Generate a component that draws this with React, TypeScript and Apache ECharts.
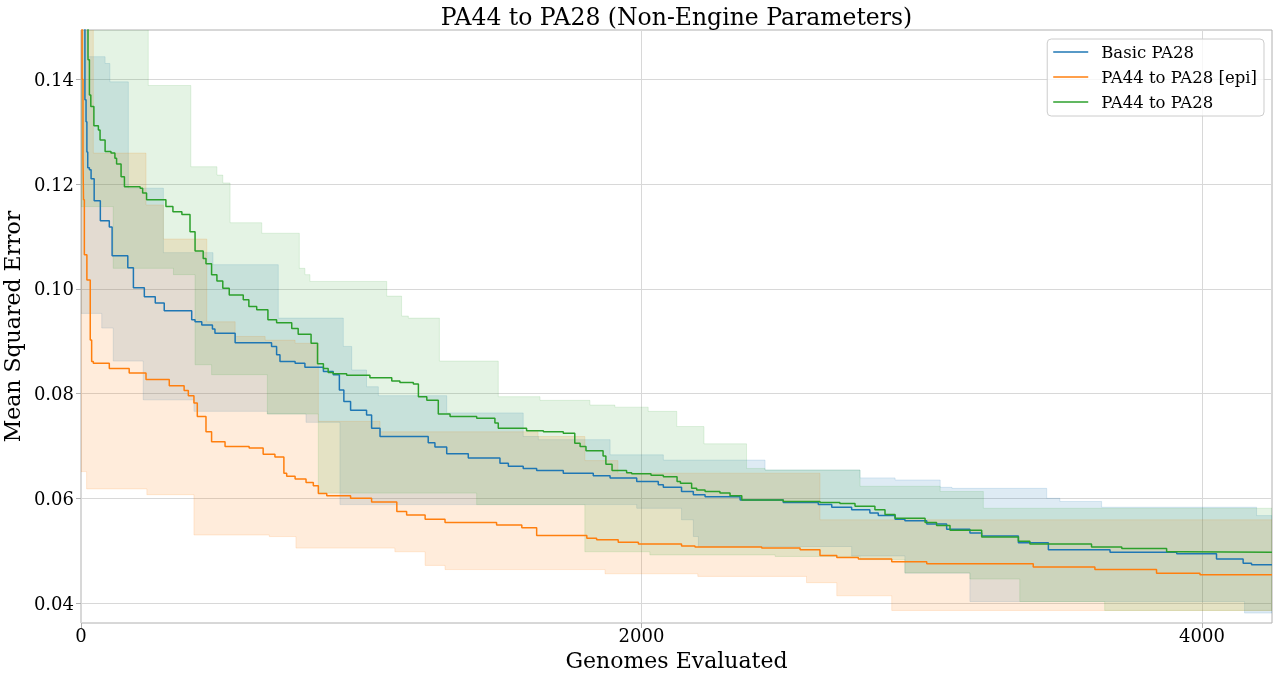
import React, { useEffect, useRef } from 'react';
import * as echarts from 'echarts';

const FONT = '"DejaVu Serif", serif';
const TITLE = 'PA44 to PA28 (Non-Engine Parameters)';
const X_NAME = 'Genomes Evaluated';
const Y_NAME = 'Mean Squared Error';
const X_MAX = 4250;
const Y_MIN = 0.0362;
const Y_MAX = 0.1494;
const X_TICKS = [0, 2000, 4000];
const Y_TICKS = [0.04, 0.06, 0.08, 0.1, 0.12, 0.14];

const SERIES_NAMES = ['Basic PA28', 'PA44 to PA28 [epi]', 'PA44 to PA28'];
const LINE_COLORS = ['#1f77b4', '#ff7f0e', '#2ca02c'];
const BAND_COLORS = ['rgba(31,119,180,0.15)', 'rgba(255,127,14,0.15)', 'rgba(44,160,44,0.13)'];

// mean curves: [genomes evaluated, MSE] (value holds until next point)
const basicMean = [[0,0.18],[7,0.150],[14,0.1361],[18,0.1319],[21,0.1261],[24,0.1231],[30,0.1227],[36,0.1210],[47,0.1168],[69,0.1130],[101,0.1118],[111,0.1063],[167,0.1040],[187,0.1002],[226,0.0985],[265,0.0973],[297,0.0958],[395,0.0941],[407,0.0937],[431,0.0931],[469,0.0923],[478,0.0915],[550,0.0897],[680,0.0890],[698,0.0874],[710,0.0861],[764,0.0858],[799,0.0850],[865,0.0842],[900,0.0836],[922,0.0807],[938,0.0785],[962,0.0768],[1019,0.0759],[1037,0.0734],[1067,0.0718],[1239,0.0706],[1263,0.0698],[1305,0.0685],[1382,0.0677],[1495,0.0667],[1525,0.0661],[1578,0.0657],[1626,0.0653],[1721,0.0648],[1828,0.0643],[1888,0.0639],[1983,0.0632],[2060,0.0626],[2078,0.0621],[2143,0.0613],[2185,0.0607],[2227,0.0603],[2352,0.0597],[2506,0.0592],[2631,0.0588],[2679,0.0583],[2750,0.0578],[2815,0.0572],[2845,0.0567],[2905,0.0560],[2940,0.0557],[3018,0.0551],[3089,0.0541],[3172,0.0534],[3214,0.0528],[3345,0.0515],[3452,0.0502],[3672,0.0497],[3910,0.0494],[4052,0.0484],[4147,0.0476],[4177,0.0473],[4250,0.0473]];

const epiMean = [[0,0.18],[4,0.140],[7,0.125],[9,0.117],[12,0.1065],[21,0.1017],[33,0.0902],[38,0.0861],[44,0.0858],[101,0.0848],[172,0.0839],[232,0.0827],[315,0.0815],[368,0.0806],[383,0.0796],[403,0.0782],[415,0.0756],[446,0.0727],[466,0.0708],[514,0.0699],[600,0.0696],[650,0.0684],[692,0.0679],[724,0.0648],[734,0.0642],[764,0.0637],[803,0.0630],[829,0.0624],[847,0.0609],[877,0.0605],[962,0.0600],[1037,0.0593],[1127,0.0575],[1162,0.0568],[1228,0.0560],[1299,0.0554],[1483,0.0549],[1573,0.0544],[1626,0.0529],[1805,0.0524],[1840,0.0521],[1917,0.0516],[1989,0.0513],[2143,0.0509],[2191,0.0507],[2429,0.0505],[2566,0.0502],[2637,0.0491],[2697,0.0487],[2774,0.0484],[2893,0.0479],[3018,0.0475],[3398,0.0469],[3618,0.0464],[3838,0.0457],[3993,0.0454],[4250,0.0454]];

const pa44Mean = [[0,0.18],[18,0.16],[25,0.1437],[30,0.1370],[35,0.1348],[46,0.1311],[62,0.1303],[68,0.1284],[86,0.1262],[107,0.1259],[121,0.1249],[127,0.1238],[143,0.1214],[155,0.1195],[211,0.1192],[220,0.1183],[234,0.1170],[303,0.1157],[328,0.1147],[360,0.1142],[389,0.1109],[407,0.1072],[436,0.1058],[446,0.1048],[466,0.1027],[485,0.1015],[506,0.1001],[529,0.0988],[579,0.0979],[599,0.0966],[627,0.0960],[667,0.0941],[698,0.0935],[752,0.0924],[775,0.0913],[821,0.0896],[844,0.0857],[865,0.0848],[882,0.0840],[900,0.0838],[948,0.0835],[1031,0.0830],[1109,0.0824],[1138,0.0821],[1186,0.0818],[1204,0.0794],[1234,0.0787],[1275,0.0761],[1317,0.0756],[1412,0.0753],[1477,0.0744],[1489,0.0734],[1590,0.0729],[1650,0.0727],[1721,0.0724],[1762,0.0705],[1781,0.0699],[1802,0.0691],[1863,0.0681],[1873,0.0665],[1895,0.0653],[1947,0.0649],[1965,0.0647],[2034,0.0644],[2078,0.0641],[2127,0.0632],[2139,0.0629],[2179,0.0619],[2197,0.0616],[2227,0.0613],[2280,0.0610],[2316,0.0605],[2358,0.0597],[2506,0.0594],[2637,0.0592],[2708,0.0590],[2762,0.0585],[2833,0.0578],[2869,0.0569],[2905,0.0562],[3012,0.0554],[3053,0.0548],[3101,0.0539],[3214,0.0526],[3345,0.0518],[3386,0.0513],[3606,0.0507],[3714,0.0504],[3874,0.0498],[3933,0.0497],[4250,0.0496]];

// min / max envelopes (step boundaries)
const basicUpper = [[0,0.17],[25,0.1443],[86,0.1430],[103,0.1395],[169,0.1192],[294,0.1069],[471,0.1046],[704,0.0944],[936,0.0890],[966,0.0845],[1019,0.0813],[1061,0.0796],[1305,0.0763],[1578,0.0718],[1632,0.0712],[1888,0.0683],[2078,0.0673],[2441,0.0654],[2780,0.0639],[2905,0.0635],[3066,0.0621],[3108,0.0619],[3446,0.0600],[3493,0.0594],[3642,0.0583],[4195,0.0567]];
const basicLower = [[0,0.0953],[74,0.0925],[115,0.0862],[222,0.0788],[403,0.0766],[665,0.0761],[803,0.0745],[924,0.0588],[1983,0.0581],[2143,0.0559],[2185,0.0527],[2203,0.0508],[2750,0.0490],[2940,0.0457],[3172,0.0403],[4152,0.0381]];

const epiUpper = [[0,0.17],[44,0.1259],[232,0.1160],[294,0.1095],[449,0.0937],[550,0.0909],[657,0.0902],[764,0.0896],[847,0.0747],[1067,0.0727],[1631,0.0718],[1798,0.0672],[1916,0.0648],[2637,0.0559]];
const epiLower = [[0,0.0651],[20,0.0618],[235,0.0607],[403,0.0530],[672,0.0527],[767,0.0505],[1120,0.0498],[1228,0.0472],[1299,0.0464],[1870,0.0456],[2201,0.0451],[2589,0.0439],[2697,0.0414],[2893,0.0386]];

const pa44Upper = [[0,0.17],[240,0.1388],[392,0.1233],[485,0.1217],[506,0.1202],[532,0.1126],[645,0.1106],[779,0.1039],[799,0.1027],[817,0.1014],[1091,0.0986],[1144,0.0948],[1168,0.0944],[1279,0.0862],[1489,0.0794],[1638,0.0787],[1816,0.0778],[1905,0.0774],[2024,0.0766],[2126,0.0737],[2223,0.0704],[2375,0.0657],[2441,0.0654],[2780,0.0623],[3066,0.0613],[3220,0.0581]];
const pa44Lower = [[0,0.1157],[115,0.1039],[330,0.1027],[407,0.0855],[466,0.0836],[665,0.0761],[847,0.0610],[1412,0.0588],[1798,0.0498],[2030,0.0492],[2477,0.0489],[2780,0.0483],[2940,0.0458],[3172,0.0446],[3350,0.0403],[3653,0.0386]];

const MEANS = [basicMean, epiMean, pa44Mean];
const UPPERS = [basicUpper, epiUpper, pa44Upper];
const LOWERS = [basicLower, epiLower, pa44Lower];

function stepCoords(steps: number[][], api: any): number[][] {
  const pts: number[][] = [];
  for (let i = 0; i < steps.length; i++) {
    const x0 = steps[i][0];
    const x1 = i + 1 < steps.length ? steps[i + 1][0] : X_MAX;
    const v = steps[i][1];
    pts.push(api.coord([x0, v]));
    pts.push(api.coord([x1, v]));
  }
  return pts;
}

export default function App() {
  const ref = useRef<HTMLDivElement>(null);
  useEffect(() => {
    document.body.style.margin = '0';
    if (!ref.current) return;
    const chart = echarts.init(ref.current, undefined, { renderer: 'svg' });

    const series: any[] = [];
    for (let i = 0; i < 3; i++) {
      series.push({
        type: 'line',
        name: SERIES_NAMES[i],
        data: MEANS[i],
        step: 'end',
        symbol: 'none',
        showSymbol: false,
        clip: true,
        lineStyle: { color: LINE_COLORS[i], width: 1.5 },
        itemStyle: { color: LINE_COLORS[i] },
      });
      const upper = UPPERS[i];
      const lower = LOWERS[i];
      const fill = BAND_COLORS[i];
      series.push({
        type: 'custom',
        name: SERIES_NAMES[i] + ' range',
        silent: true,
        clip: true,
        data: [[0, Y_MIN]],
        encode: { x: 0, y: 1 },
        renderItem: (_params: any, api: any) => {
          const top = stepCoords(upper, api);
          const bottom = stepCoords(lower, api).reverse();
          return {
            type: 'polygon',
            shape: { points: top.concat(bottom) },
            style: { fill, stroke: fill, lineWidth: 1 },
          };
        },
      });
    }

    chart.setOption({
      animation: false,
      color: LINE_COLORS,
      textStyle: { fontFamily: FONT },
      grid: {
        left: 81, right: 8, top: 30, bottom: 57,
        show: true, borderColor: '#b0b0b0', borderWidth: 1,
        backgroundColor: 'transparent',
        containLabel: false,
        outerBoundsMode: 'none',
      },
      graphic: [
        {
          type: 'text',
          x: 676.5,
          y: 17,
          style: {
            text: TITLE,
            font: '23.5px "DejaVu Serif", serif',
            fill: '#000',
            textAlign: 'center',
            textVerticalAlign: 'middle',
            verticalAlign: 'middle',
          },
        },
      ],
      legend: {
        data: SERIES_NAMES,
        orient: 'vertical',
        right: 16,
        top: 39,
        icon: 'rect',
        itemWidth: 35,
        itemHeight: 1.5,
        itemGap: 5,
        selectedMode: false,
        backgroundColor: 'rgba(255,255,255,0.8)',
        borderColor: '#cccccc',
        borderWidth: 1,
        borderRadius: 4,
        padding: [3, 7, 4, 6],
        textStyle: { fontFamily: FONT, fontSize: 16.5, color: '#000', lineHeight: 20, padding: [0, 0, 0, 8] },
      },
      xAxis: {
        type: 'value',
        min: 0,
        max: X_MAX,
        interval: 2000,
        axisLine: { show: false },
        axisTick: { show: true, length: 5, lineStyle: { color: '#b0b0b0' }, customValues: X_TICKS },
        axisLabel: {
          customValues: X_TICKS, fontSize: 18, color: '#000', margin: 3, fontFamily: FONT,
          formatter: (v: number) => String(Math.round(v)),
        },
        splitLine: { show: true, lineStyle: { color: '#d8d8d8', width: 1 } },
        name: X_NAME,
        nameLocation: 'middle',
        nameGap: 26,
        nameTextStyle: { fontSize: 22, fontFamily: FONT, color: '#000' },
      },
      yAxis: {
        type: 'value',
        min: Y_MIN,
        max: Y_MAX,
        axisLine: { show: false },
        axisTick: { show: true, length: 5, lineStyle: { color: '#b0b0b0' }, customValues: Y_TICKS },
        axisLabel: {
          customValues: Y_TICKS, fontSize: 18, color: '#000', margin: 7, fontFamily: FONT,
          formatter: (v: number) => v.toFixed(2),
        },
        splitLine: { show: true, lineStyle: { color: '#d8d8d8', width: 1 } },
        name: Y_NAME,
        nameLocation: 'middle',
        nameGap: 53,
        nameTextStyle: { fontSize: 22, fontFamily: FONT, color: '#000' },
      },
      series,
    });
    return () => chart.dispose();
  }, []);
  return <div ref={ref} style={{ position: 'fixed', left: 0, top: 0, width: 1280, height: 680 }} />;
}
